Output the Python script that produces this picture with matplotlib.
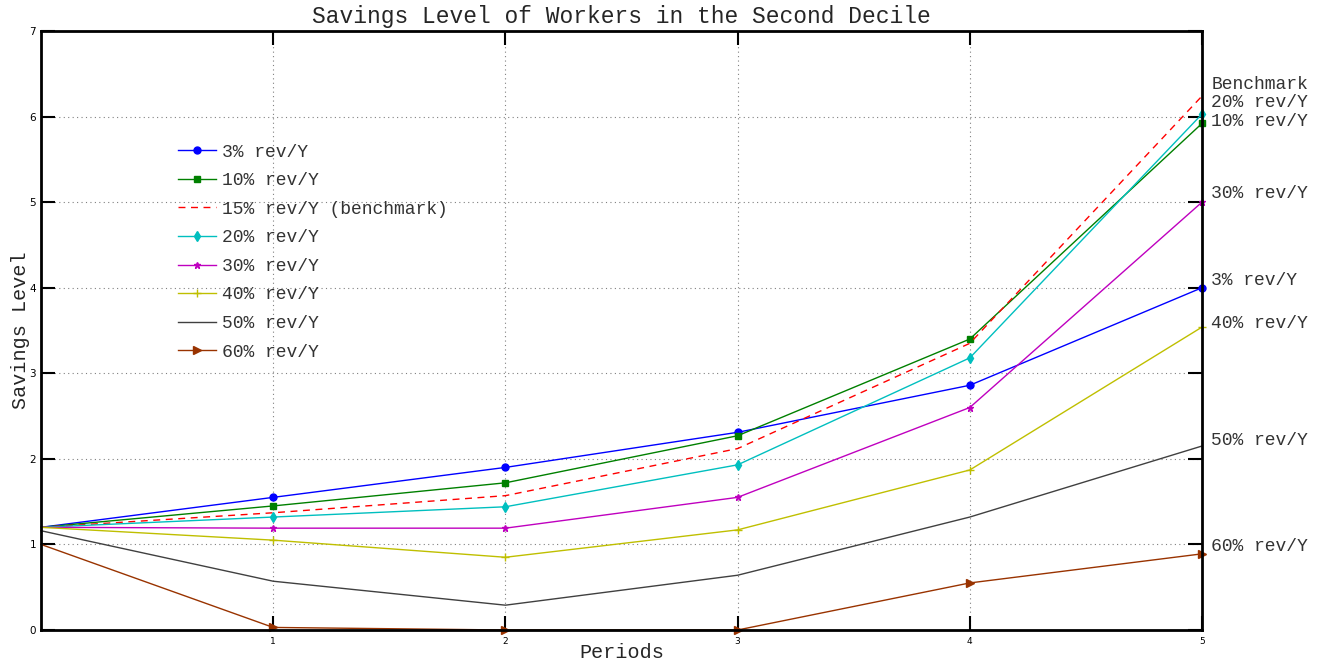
import matplotlib
matplotlib.use("Agg")
import matplotlib.pyplot as plt

# data
periods = [0, 1, 2, 3, 4, 5]
s03 = [1.20, 1.55, 1.90, 2.31, 2.86, 4.00]
s10 = [1.20, 1.45, 1.72, 2.27, 3.40, 5.92]
s15 = [1.20, 1.37, 1.57, 2.12, 3.35, 6.24]
s20 = [1.20, 1.32, 1.44, 1.93, 3.18, 6.03]
s30 = [1.20, 1.19, 1.19, 1.55, 2.60, 5.00]
s40 = [1.20, 1.05, 0.85, 1.17, 1.87, 3.54]
s50 = [1.16, 0.57, 0.29, 0.64, 1.32, 2.15]
s60 = [1.00, 0.03, 0.00, 0.00, 0.55, 0.89]

series_names = ['3% rev/Y', '10% rev/Y', '15% rev/Y (benchmark)', '20% rev/Y',
                '30% rev/Y', '40% rev/Y', '50% rev/Y', '60% rev/Y']
end_labels = ['Benchmark', '20% rev/Y', '10% rev/Y', '30% rev/Y',
              '3% rev/Y', '40% rev/Y', '50% rev/Y', '60% rev/Y']
end_label_y = [6.38, 6.17, 5.94, 5.10, 4.08, 3.58, 2.22, 0.97]

mono = 'Liberation Mono'

fig = plt.figure(figsize=(13.29, 6.66), dpi=100)
ax = fig.add_axes([41/1329, 36/666, 1161/1329, 599/666])

styles = [
    (s03, dict(color=(0, 0, 1), marker='o', markersize=5)),
    (s10, dict(color=(0, 0.5, 0), marker='s', markersize=4.5)),
    (s15, dict(color=(1, 0, 0), linestyle=(0, (5, 4)))),
    (s20, dict(color=(0, 0.75, 0.75), marker='d', markersize=5.5)),
    (s30, dict(color=(0.75, 0, 0.75), marker='*', markersize=5)),
    (s40, dict(color=(0.75, 0.75, 0), marker='+', markersize=6)),
    (s50, dict(color=(0.25, 0.25, 0.25))),
    (s60, dict(color=(0.6, 0.2, 0), marker='>', markersize=6)),
]
for (vals, kw), name in zip(styles, series_names):
    ax.plot(periods, vals, linewidth=1.0, markevery=[1, 2, 3, 4, 5],
            label=name, clip_on=False, **kw)

ax.set_xlim(0, 5)
ax.set_ylim(0, 7)
ax.set_xticks([1, 2, 3, 4, 5])
ax.set_yticks(range(8))
ax.grid(True, linestyle=(0, (1, 3)), color='0.5', linewidth=0.8)
ax.tick_params(direction='in', length=10, width=1.5, labelsize=7.5,
               top=True, right=True, colors='black')
ax.tick_params(axis='x', labelsize=6.5, pad=5)
for sp in ax.spines.values():
    sp.set_linewidth(2)

ax.set_title('Savings Level of Workers in the Second Decile',
             fontfamily=mono, fontsize=16.5, pad=6, color='0.15')
ax.set_xlabel('Periods', fontfamily=mono, fontsize=14.5, labelpad=-2, color='0.15')
ax.set_ylabel('Savings Level', fontfamily=mono, fontsize=14.5, labelpad=0, color='0.15')

for txt, yv in zip(end_labels, end_label_y):
    ax.text(5.04, yv, txt, fontfamily=mono, fontsize=13, va='center',
            ha='left', color='0.2', clip_on=False)

leg = ax.legend(loc='upper left', bbox_to_anchor=(0.118, 0.812), frameon=False,
                prop={'family': mono, 'size': 13}, handlelength=2.1,
                handletextpad=0.35, labelspacing=0.64, borderpad=0,
                borderaxespad=0)
for t in leg.get_texts():
    t.set_color('0.2')

fig.savefig('out.png', dpi=100)
